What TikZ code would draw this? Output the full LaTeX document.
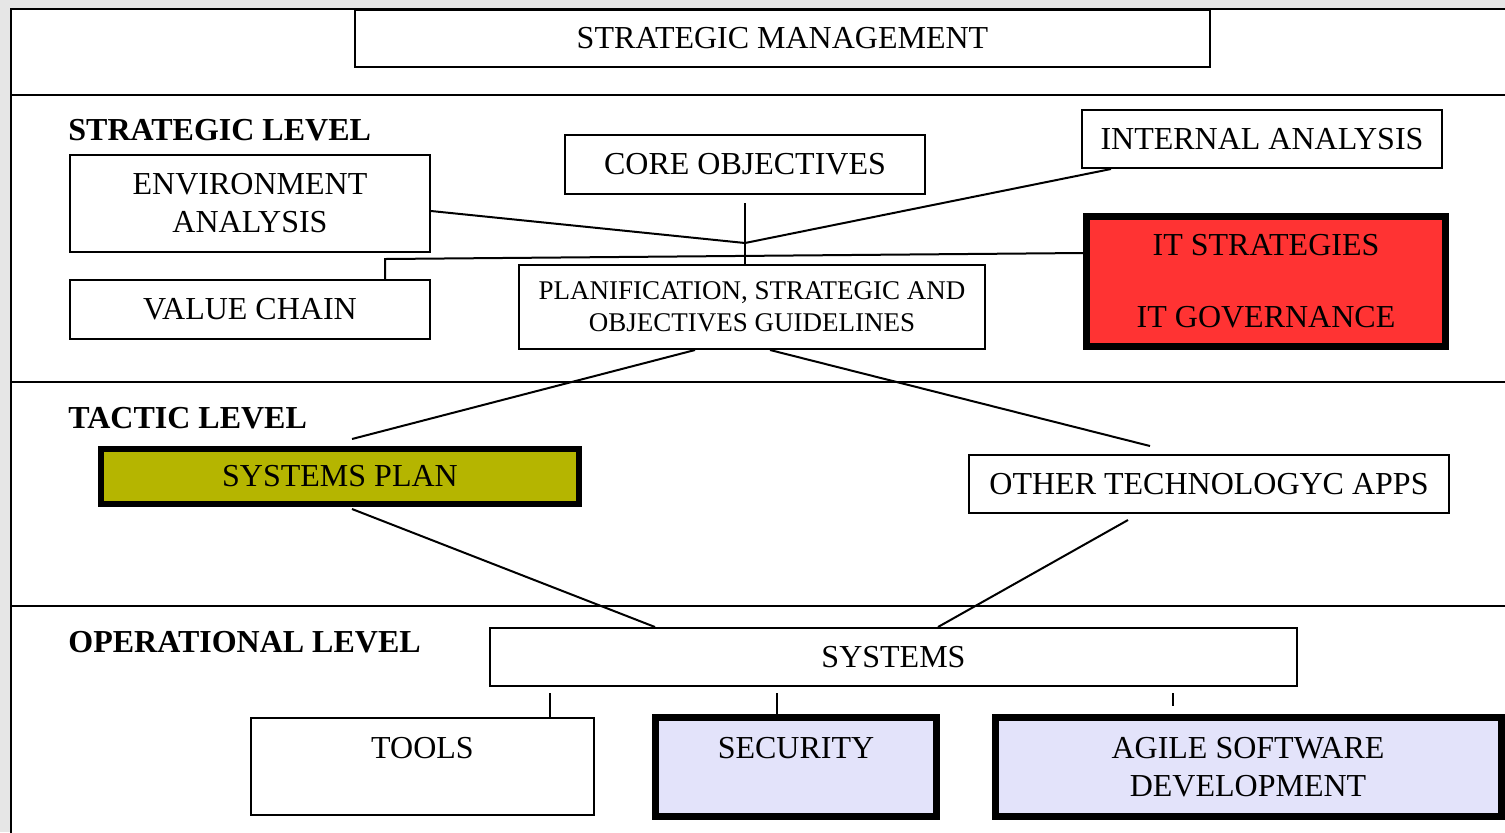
\documentclass[tikz,border=0pt]{standalone}
\usepackage{fontspec}
\setmainfont{Liberation Serif}
\definecolor{itred}{HTML}{FF3333}
\definecolor{planolive}{HTML}{B5B500}
\definecolor{oplilac}{HTML}{E3E3FA}
\definecolor{pagegrey}{HTML}{E6E6E6}
\begin{document}
\begin{tikzpicture}[x=0.5pt,y=-0.5pt]
				\tikzstyle{every node}=[font=\fontsize{16}{19}\selectfont]
				\tikzstyle{box}=[draw,line width=1pt,fill=white,inner sep=0pt,align=center]
				\tikzstyle{heavy box}=[box,line width=3.5pt]
				\tikzstyle{level label}=[anchor=west,inner sep=0pt,font=\fontsize{16}{19}\selectfont\bfseries]
				\tikzstyle{link}=[line width=1pt]
				\useasboundingbox[fill=pagegrey] (0,0) rectangle (1505,832);
				% frame and level separators
				\filldraw[fill=white,draw=black,line width=1pt] (11,9) rectangle (1530,860);
				\draw[line width=1pt] (11,95) -- (1505,95);
				\draw[line width=1pt] (11,382) -- (1505,382);
				\draw[line width=1pt] (11,606) -- (1505,606);
				% strategic management
				\node[box,minimum width=427.5pt,minimum height=28.5pt] (mgmt) at (782.5,38.5) {STRATEGIC MANAGEMENT};
				% strategic level
				\node[level label] (strat) at (68,130) {STRATEGIC LEVEL};
				\node[box,minimum width=180pt,minimum height=48.5pt] (env) at (250,203.5) {ENVIRONMENT\\ANALYSIS};
				\node[box,minimum width=180pt,minimum height=29.5pt] (vchain) at (250,309.5) {VALUE CHAIN};
				\node[box,minimum width=180pt,minimum height=29.5pt] (core) at (745,164.5) {CORE OBJECTIVES};
				\node[box,minimum width=180pt,minimum height=29pt] (internal) at (1262,139) {INTERNAL ANALYSIS};
				\node[heavy box,fill=itred,minimum width=179.5pt,minimum height=65pt] (itgov) at (1266,281.5) {IT STRATEGIES\\[17pt]IT GOVERNANCE};
				\node[box,minimum width=233pt,minimum height=42pt,font=\fontsize{13.5}{16}\selectfont] (planif) at (752,307) {PLANIFICATION, STRATEGIC AND\\OBJECTIVES GUIDELINES};
				\coordinate (hub) at (745,243);
				\coordinate (bend) at (385,259);
				\draw[link] ([yshift=-4pt]core.south) -- (core.south |- planif.north);
				\draw[link] ([yshift=-3.75pt]env.east) -- (hub);
				\draw[link] ([xshift=15pt]internal.south west) -- (hub);
				\draw[link] ([yshift=14.25pt]itgov.west) -- (bend) -- (bend |- vchain.north);
				% tactic level
				\node[level label] (tactic) at (68,418) {TACTIC LEVEL};
				\node[heavy box,line width=3pt,fill=planolive,minimum width=239pt,minimum height=27.5pt] (sysplan) at (340,476.5) {SYSTEMS PLAN};
				\node[box,minimum width=240pt,minimum height=29pt] (other) at (1209,484) {OTHER TECHNOLOGYC APPS};
				\draw[link] ([xshift=-28.5pt]planif.south) -- ([xshift=6pt,yshift=3.5pt]sysplan.north);
				\draw[link] ([xshift=9pt]planif.south) -- ([xshift=-29.5pt,yshift=4pt]other.north);
				% operational level
				\node[level label] (oper) at (68,642) {OPERATIONAL LEVEL};
				\node[box,minimum width=403.5pt,minimum height=29pt] (systems) at (893.5,657) {SYSTEMS};
				\node[box,minimum width=171.5pt,minimum height=48.5pt] (tools) at (422.5,766.5) {TOOLS\\~};
				\node[heavy box,fill=oplilac,minimum width=140.5pt,minimum height=49.5pt] (security) at (796,767) {SECURITY\\~};
				\node[heavy box,fill=oplilac,minimum width=253pt,minimum height=49.5pt] (agile) at (1248,767) {AGILE SOFTWARE\\DEVELOPMENT};
				\draw[link] ([xshift=6pt,yshift=-1pt]sysplan.south) -- ([xshift=-119.25pt]systems.north);
				\draw[link] ([xshift=-40.5pt,yshift=-3pt]other.south) -- ([xshift=22.25pt]systems.north);
				\draw[link] ([xshift=63.75pt,yshift=-3pt]tools.north |- systems.south) -- ([xshift=63.75pt]tools.north);
				\draw[link] ([xshift=-9.5pt,yshift=-3pt]security.north |- systems.south) -- ([xshift=-9.5pt]security.north);
				\draw[link] ([xshift=-37.5pt,yshift=-3pt]agile.north |- systems.south) -- ([xshift=-37.5pt,yshift=4pt]agile.north);
\end{tikzpicture}
\end{document}
